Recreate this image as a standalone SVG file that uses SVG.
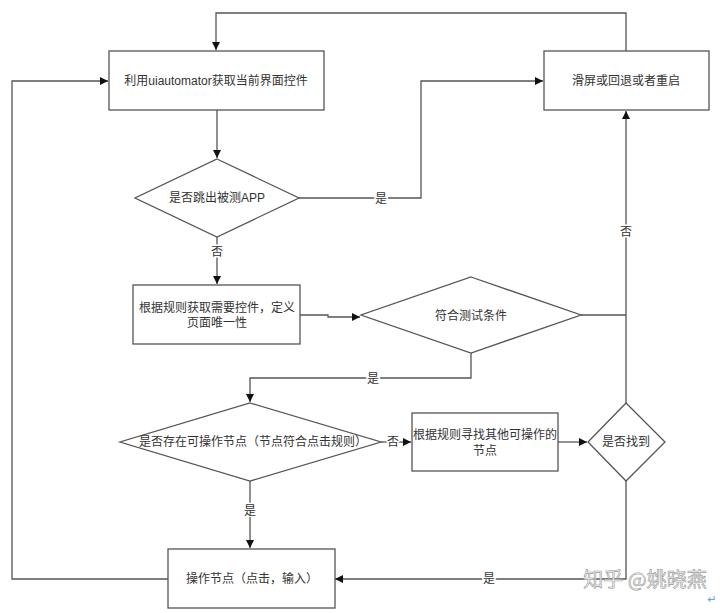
<svg xmlns="http://www.w3.org/2000/svg" width="720" height="613" viewBox="0 0 720 613">
<style>
.n{fill:#fff;stroke:#555;stroke-width:1.3}
.t{font-family:"Liberation Sans","Noto Sans CJK SC",sans-serif;font-size:12px;fill:#333;text-anchor:middle;dominant-baseline:central}
.c{fill:none;stroke:#555;stroke-width:1.3}
.wm{font-family:"Noto Sans CJK SC",sans-serif;font-size:20px;fill:#f4f4f4;stroke:#999;stroke-width:0.6;text-anchor:middle;dominant-baseline:central}
</style>
<defs>
<marker id="a" viewBox="0 0 10 10" refX="10" refY="5" markerWidth="8" markerHeight="8" markerUnits="userSpaceOnUse" orient="auto">
<path d="M0,0 L10,5 L0,10 z" fill="#111"/>
</marker>
</defs>
<rect width="720" height="613" fill="#fff"/>
<g id="connectors">
<path class="c" d="M626,51 V13 H216 V50" marker-end="url(#a)"/>
<path class="c" d="M168,579 H12 V81 H108" marker-end="url(#a)"/>
<path class="c" d="M217,110 V158" marker-end="url(#a)"/>
<path class="c" d="M299,198 H421 V81 H543" marker-end="url(#a)"/>
<path class="c" d="M217,237 V284" marker-end="url(#a)"/>
<path class="c" d="M300,315 H328 V317 H360" marker-end="url(#a)"/>
<path class="c" d="M581,315 H626"/>
<path class="c" d="M626,403 V111" marker-end="url(#a)"/>
<path class="c" d="M471,353 V378 H250 V402" marker-end="url(#a)"/>
<path class="c" d="M381,442 H411" marker-end="url(#a)"/>
<path class="c" d="M558,442 H587" marker-end="url(#a)"/>
<path class="c" d="M626,481 V579 H335" marker-end="url(#a)"/>
<path class="c" d="M250,481 V548" marker-end="url(#a)"/>
<g class="t" style="paint-order:stroke;stroke:#fff;stroke-width:3px">
<text x="381" y="199">是</text>
<text x="217" y="252">否</text>
<text x="626" y="232">否</text>
<text x="373" y="379">是</text>
<text x="393" y="442">否</text>
<text x="250" y="511">是</text>
<text x="489" y="579">是</text>
</g>
</g>
<g id="n1"><rect class="n" x="109" y="51" width="215" height="59"/><text class="t" x="216" y="81">利用uiautomator获取当前界面控件</text></g>
<g id="n2"><rect class="n" x="544" y="51" width="165" height="59"/><text class="t" x="626" y="81">滑屏或回退或者重启</text></g>
<g id="n3"><polygon class="n" points="217,159 299,198 217,237 135,198"/><text class="t" x="217" y="198">是否跳出被测APP</text></g>
<g id="n4"><rect class="n" x="133" y="285" width="167" height="59"/><text class="t" x="217" y="308">根据规则获取需要控件，定义</text><text class="t" x="217" y="323">页面唯一性</text></g>
<g id="n5"><polygon class="n" points="471,277 581,315 471,353 361,315"/><text class="t" x="471" y="316">符合测试条件</text></g>
<g id="n6"><polygon class="n" points="250,403 381,442 250,481 120,442"/><text class="t" x="253" y="442">是否存在可操作节点（节点符合点击规则）</text></g>
<g id="n7"><rect class="n" x="412" y="413" width="146" height="58"/><text class="t" x="485" y="435">根据规则寻找其他可操作的</text><text class="t" x="485" y="451">节点</text></g>
<g id="n8"><polygon class="n" points="626,403 665,442 626,481 588,442"/><text class="t" x="626" y="442">是否找到</text></g>
<g id="n9"><rect class="n" x="168" y="549" width="167" height="59"/><text class="t" x="252" y="579">操作节点（点击，输入）</text></g>
<text class="wm" x="645" y="578">知乎 @姚晓燕</text>
<text x="712" y="603" font-family="DejaVu Sans,sans-serif" font-size="11" fill="#6a9fd8" text-anchor="middle">↵</text>
</svg>
